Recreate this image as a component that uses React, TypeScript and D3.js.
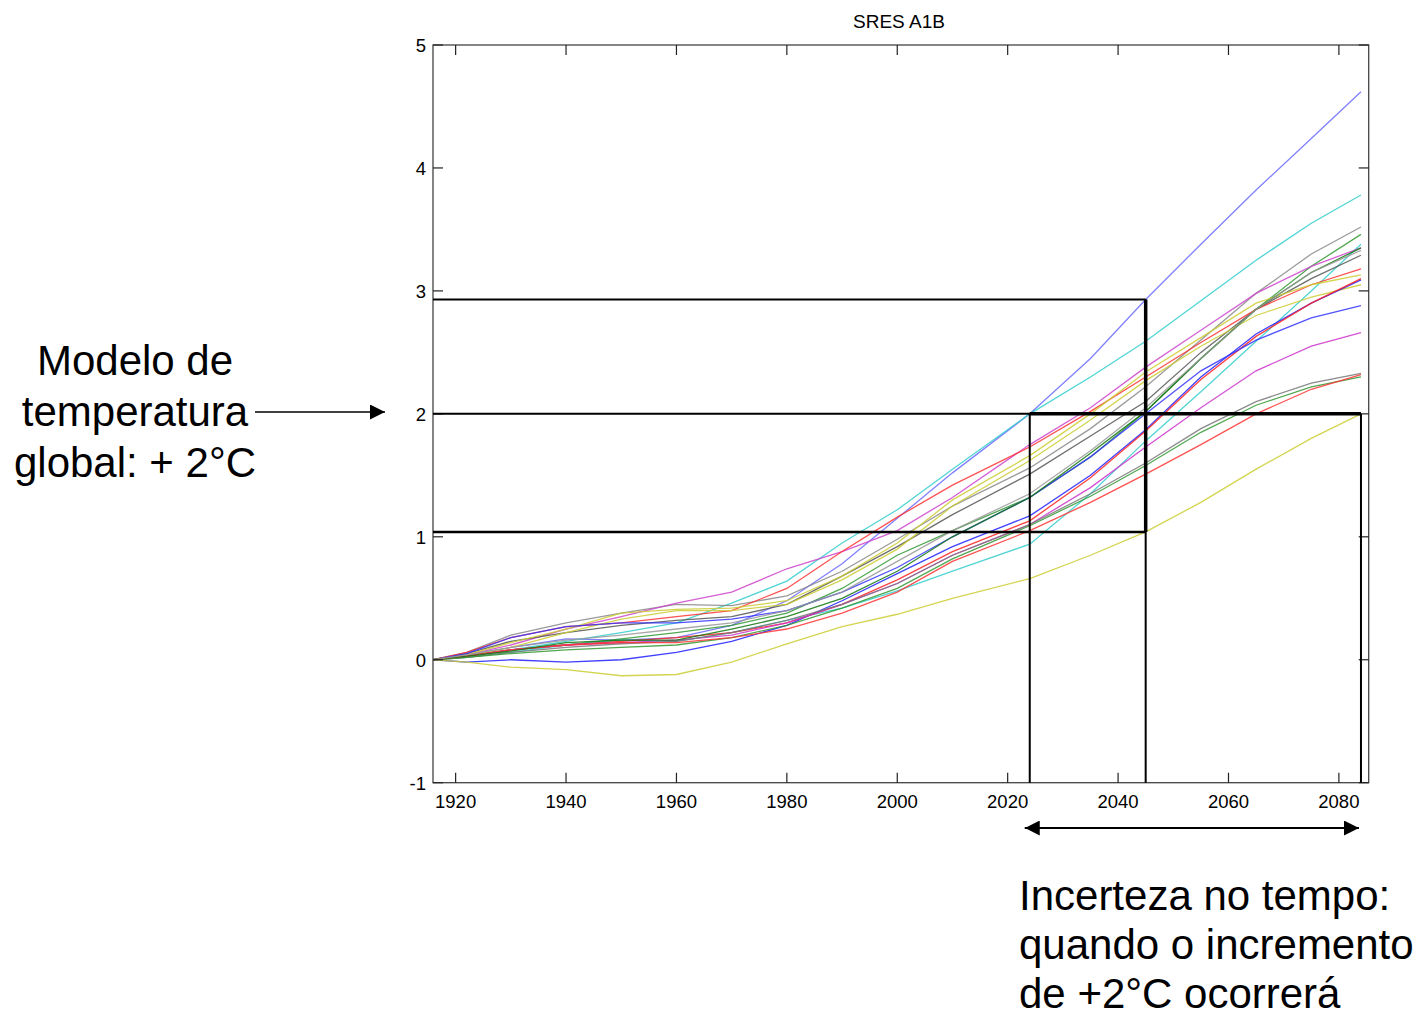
import * as d3 from 'd3';

// sample years shared by all model runs
const years = [1916, 1922, 1930, 1940, 1950, 1960, 1970, 1980, 1990, 2000, 2010, 2024, 2035, 2045, 2055, 2065, 2075, 2084];

// model runs (temperature anomaly, °C)
const runs = [
  { color: '#6a6aff', values: [0, 0.04, 0.10, 0.17, 0.16, 0.18, 0.28, 0.48, 0.78, 1.15, 1.52, 2.00, 2.45, 2.93, 3.38, 3.82, 4.24, 4.62] },
  { color: '#33cccc', values: [0, 0.03, 0.08, 0.15, 0.22, 0.30, 0.46, 0.64, 0.95, 1.22, 1.55, 2.00, 2.30, 2.59, 2.92, 3.25, 3.55, 3.78] },
  { color: '#888888', values: [0, 0.06, 0.20, 0.30, 0.38, 0.45, 0.44, 0.52, 0.72, 0.98, 1.25, 1.56, 1.88, 2.22, 2.60, 2.98, 3.30, 3.52] },
  { color: '#339933', values: [0, 0.03, 0.08, 0.12, 0.17, 0.22, 0.28, 0.38, 0.58, 0.85, 1.05, 1.32, 1.65, 2.02, 2.45, 2.85, 3.20, 3.46] },
  { color: '#33cccc', values: [0, 0.02, 0.06, 0.12, 0.16, 0.15, 0.22, 0.32, 0.42, 0.56, 0.72, 0.94, 1.35, 1.78, 2.18, 2.59, 3.00, 3.38] },
  { color: '#cc44cc', values: [0, 0.04, 0.12, 0.25, 0.35, 0.46, 0.55, 0.74, 0.88, 1.05, 1.32, 1.75, 2.05, 2.38, 2.68, 2.98, 3.20, 3.35] },
  { color: '#555555', values: [0, 0.05, 0.15, 0.22, 0.28, 0.32, 0.35, 0.45, 0.68, 0.92, 1.18, 1.51, 1.82, 2.10, 2.50, 2.85, 3.10, 3.29] },
  { color: '#ff3333', values: [0, 0.06, 0.18, 0.27, 0.30, 0.35, 0.40, 0.58, 0.88, 1.16, 1.42, 1.73, 2.02, 2.30, 2.58, 2.85, 3.05, 3.18] },
  { color: '#cccc33', values: [0, 0.04, 0.14, 0.25, 0.38, 0.41, 0.42, 0.48, 0.68, 0.95, 1.30, 1.66, 2.00, 2.34, 2.62, 2.90, 3.05, 3.13] },
  { color: '#cccc33', values: [0, 0.03, 0.10, 0.22, 0.33, 0.40, 0.40, 0.45, 0.65, 0.90, 1.25, 1.62, 1.95, 2.27, 2.55, 2.80, 2.95, 3.05] },
  { color: '#2020ff', values: [0, -0.02, 0.00, -0.02, 0.00, 0.06, 0.15, 0.28, 0.48, 0.70, 0.92, 1.17, 1.50, 1.87, 2.30, 2.65, 2.90, 3.09] },
  { color: '#ff2222', values: [0, 0.03, 0.08, 0.12, 0.15, 0.18, 0.22, 0.30, 0.45, 0.65, 0.88, 1.13, 1.48, 1.86, 2.28, 2.63, 2.90, 3.10] },
  { color: '#3333ff', values: [0, 0.05, 0.18, 0.27, 0.30, 0.30, 0.33, 0.40, 0.55, 0.75, 1.00, 1.32, 1.65, 2.00, 2.35, 2.60, 2.78, 2.88] },
  { color: '#cc33cc', values: [0, 0.03, 0.08, 0.12, 0.14, 0.16, 0.20, 0.30, 0.45, 0.62, 0.85, 1.10, 1.40, 1.73, 2.05, 2.35, 2.55, 2.66] },
  { color: '#777777', values: [0, 0.02, 0.06, 0.10, 0.13, 0.15, 0.22, 0.32, 0.45, 0.62, 0.85, 1.10, 1.35, 1.60, 1.88, 2.10, 2.25, 2.33] },
  { color: '#339933', values: [0, 0.02, 0.05, 0.08, 0.10, 0.12, 0.18, 0.28, 0.42, 0.58, 0.82, 1.09, 1.33, 1.58, 1.85, 2.07, 2.22, 2.30] },
  { color: '#ff3333', values: [0, 0.03, 0.08, 0.12, 0.14, 0.14, 0.18, 0.25, 0.38, 0.55, 0.80, 1.05, 1.28, 1.51, 1.75, 2.00, 2.20, 2.32] },
  { color: '#cccc33', values: [0, -0.02, -0.06, -0.08, -0.13, -0.12, -0.02, 0.13, 0.27, 0.37, 0.50, 0.66, 0.85, 1.04, 1.28, 1.55, 1.80, 2.00] },
  { color: '#117711', values: [0, 0.03, 0.07, 0.14, 0.16, 0.16, 0.25, 0.35, 0.50, 0.72, 1.00, 1.32, 1.68, 2.02, 2.45, 2.85, 3.15, 3.35] },
  { color: '#999999', values: [0, 0.04, 0.10, 0.16, 0.20, 0.25, 0.30, 0.40, 0.55, 0.80, 1.05, 1.35, 1.70, 2.05, 2.45, 2.85, 3.15, 3.33] },
];

const xTicks = [1920, 1940, 1960, 1980, 2000, 2020, 2040, 2060, 2080];
const yTicks = [-1, 0, 1, 2, 3, 4, 5];

// overlay marking the +2°C crossing
const levelHigh = 2.93;
const levelTarget = 2.0;
const levelLow = 1.04;
const yearFirst = 2024;
const yearMid = 2045;
const yearLast = 2084;

const title = 'SRES A1B';
const leftNote = ['Modelo de', 'temperatura', 'global: + 2°C'];
const bottomNote = ['Incerteza no tempo:', 'quando o incremento', 'de +2°C ocorrerá'];

export default function App() {
  const x = d3.scaleLinear().domain([1915.9, 2085.4]).range([433, 1368.7]);
  const y = d3.scaleLinear().domain([-1, 5]).range([782.7, 45]);
  const [x0, x1] = x.range();
  const [y0, y1] = y.range();

  const line = d3.line<number>()
    .x((_, i) => x(years[i]))
    .y(d => y(d));

  const font = 'Liberation Sans, Arial, Helvetica, sans-serif';

  return (
    <svg width={1425} height={1018} style={{ position: 'absolute', left: 0, top: 0, background: '#fff' }}>
      <defs>
        <marker id="head" viewBox="0 0 10 10" refX="10" refY="5" markerWidth="15" markerHeight="15" markerUnits="userSpaceOnUse" orient="auto-start-reverse">
          <path d="M0,0 L10,5 L0,10 z" fill="#000" />
        </marker>
      </defs>

      <text x={899} y={28} fontFamily={font} fontSize={19} textAnchor="middle">{title}</text>

      {/* model runs */}
      <g fill="none" strokeWidth={1.3} strokeOpacity={0.85}>
        {runs.map((r, i) => (
          <path key={i} d={line(r.values) || ''} stroke={r.color} />
        ))}
      </g>

      {/* frame and inner ticks */}
      <rect x={x0} y={y1} width={x1 - x0} height={y0 - y1} fill="none" stroke="#444" strokeWidth={1.3} />
      <g stroke="#222" strokeWidth={1.2}>
        {xTicks.map(t => (
          <g key={t}>
            <line x1={x(t)} x2={x(t)} y1={y0} y2={y0 - 10} />
            <line x1={x(t)} x2={x(t)} y1={y1} y2={y1 + 10} />
          </g>
        ))}
        {yTicks.map(t => (
          <g key={t}>
            <line x1={x0} x2={x0 + 10} y1={y(t)} y2={y(t)} />
            <line x1={x1} x2={x1 - 10} y1={y(t)} y2={y(t)} />
          </g>
        ))}
      </g>
      <g fontFamily={font} fontSize={18.5}>
        {xTicks.map(t => (
          <text key={t} x={x(t)} y={808} textAnchor="middle">{t}</text>
        ))}
        {yTicks.map(t => (
          <text key={t} x={426} y={y(t) + 7} textAnchor="end">{t}</text>
        ))}
      </g>

      {/* +2°C overlay */}
      <g stroke="#000" fill="none">
        <line x1={x0} x2={x(yearMid)} y1={y(levelHigh)} y2={y(levelHigh)} strokeWidth={2} />
        <line x1={x0} x2={x(yearLast)} y1={y(levelTarget)} y2={y(levelTarget)} strokeWidth={2} />
        <line x1={x(yearFirst)} x2={x(yearLast)} y1={y(levelTarget)} y2={y(levelTarget)} strokeWidth={3.5} />
        <line x1={x0} x2={x(yearMid)} y1={y(levelLow)} y2={y(levelLow)} strokeWidth={2.5} />
        <line x1={x(yearMid)} x2={x(yearMid)} y1={y(levelHigh)} y2={y0} strokeWidth={2} />
        <line x1={x(yearMid)} x2={x(yearMid)} y1={y(levelHigh)} y2={y(levelLow)} strokeWidth={3.5} />
        <line x1={x(yearFirst)} x2={x(yearFirst)} y1={y(levelTarget)} y2={y0} strokeWidth={2} />
        <line x1={x(yearLast)} x2={x(yearLast)} y1={y(levelTarget)} y2={y0} strokeWidth={2} />
      </g>

      {/* annotations */}
      <line x1={255} x2={385} y1={412} y2={412} stroke="#000" strokeWidth={1.5} markerEnd="url(#head)" />
      <line x1={x(yearFirst) - 5} x2={x(yearLast) - 2} y1={828} y2={828} stroke="#000" strokeWidth={2} markerStart="url(#head)" markerEnd="url(#head)" />

      <g fontFamily={font} fontSize={42} fill="#000">
        {leftNote.map((s, i) => (
          <text key={s} x={135} y={375 + i * 51} textAnchor="middle">{s}</text>
        ))}
        {bottomNote.map((s, i) => (
          <text key={s} x={1019} y={910 + i * 49} textAnchor="start">{s}</text>
        ))}
      </g>
    </svg>
  );
}
